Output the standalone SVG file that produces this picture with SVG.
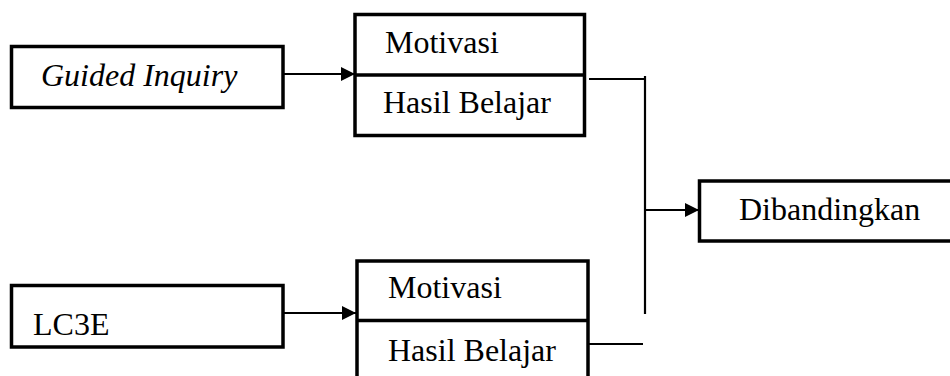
<svg xmlns="http://www.w3.org/2000/svg" width="950" height="376" viewBox="0 0 950 376">
<style>
.box{fill:#fff;stroke:#000;stroke-width:3.5}
.div{stroke:#000;stroke-width:3.5}
.ln{stroke:#000;stroke-width:2.2;fill:none}
text{font-family:'Liberation Serif','Times New Roman',Tinos,'DejaVu Serif',serif;font-size:32px;fill:#000}
.i{font-style:italic}
</style>
<defs>
<marker id="ah" markerWidth="14" markerHeight="14" refX="14" refY="7" orient="auto" markerUnits="userSpaceOnUse">
<path d="M0,0 L14,7 L0,14 Z" fill="#000"/>
</marker>
</defs>
<g id="connectors">
<line class="ln" x1="278" y1="74" x2="355" y2="74" marker-end="url(#ah)"/>
<line class="ln" x1="283" y1="313" x2="356" y2="313" marker-end="url(#ah)"/>
<polyline class="ln" points="589,79 645,79"/>
<line class="ln" x1="645" y1="76" x2="645" y2="314"/>
<line class="ln" x1="584" y1="344" x2="643" y2="344"/>
<line class="ln" x1="645" y1="210" x2="699" y2="210" marker-end="url(#ah)"/>
</g>
<g id="guided">
<rect class="box" x="11.5" y="46.5" width="271.5" height="61"/>
<text class="i" x="41" y="86" font-family="Liberation Serif, serif">Guided Inquiry</text>
</g>
<g id="top-outcome">
<rect class="box" x="355" y="14.5" width="229.5" height="121"/>
<line class="div" x1="355" y1="75" x2="584.5" y2="75"/>
<text x="385" y="53" font-family="Liberation Serif, serif">Motivasi</text>
<text x="383" y="113" font-family="Liberation Serif, serif">Hasil Belajar</text>
</g>
<g id="lc3e">
<rect class="box" x="11.5" y="285.5" width="271.5" height="61.5"/>
<text x="33" y="335" font-family="Liberation Serif, serif">LC3E</text>
</g>
<g id="bottom-outcome">
<rect class="box" x="357" y="261" width="231" height="130"/>
<line class="div" x1="357" y1="320.5" x2="588" y2="320.5"/>
<text x="388" y="298" font-family="Liberation Serif, serif">Motivasi</text>
<text x="388" y="361" font-family="Liberation Serif, serif">Hasil Belajar</text>
</g>
<g id="dibandingkan">
<rect class="box" x="699.5" y="181" width="260" height="60"/>
<text x="739" y="220" font-family="Liberation Serif, serif">Dibandingkan</text>
</g>
</svg>
